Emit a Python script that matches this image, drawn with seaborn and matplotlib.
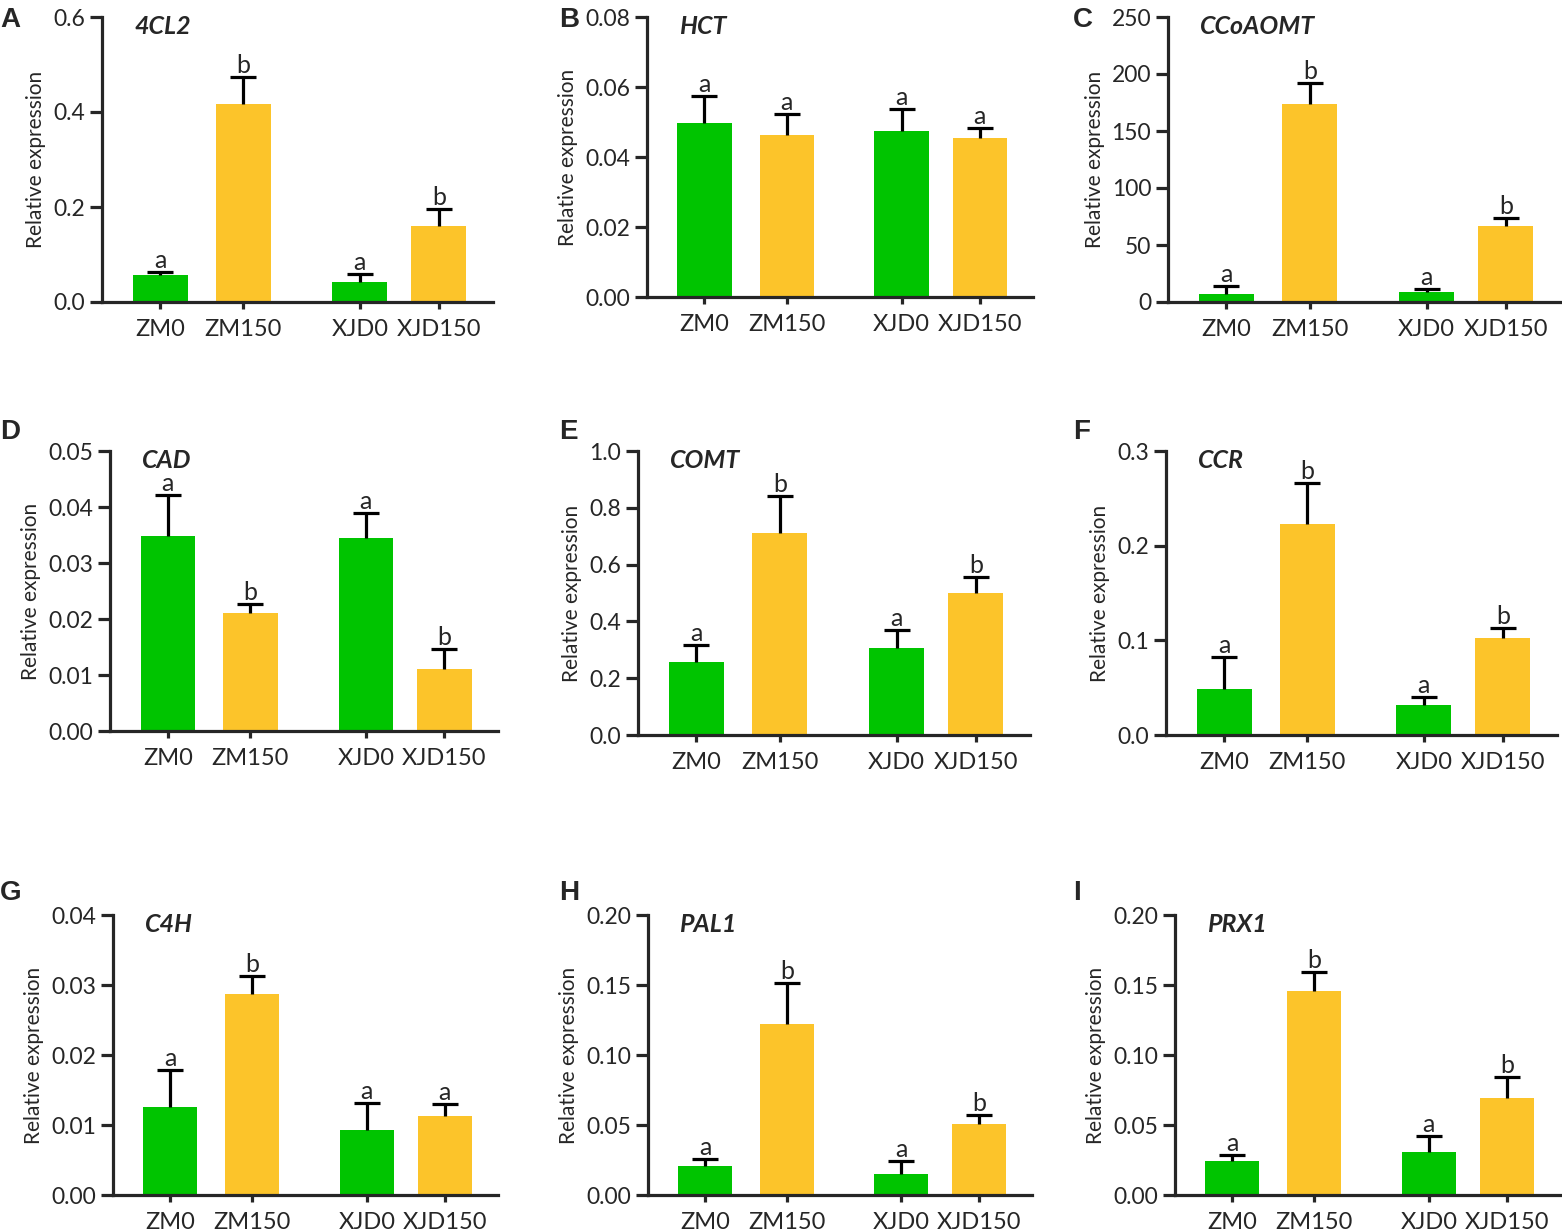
import numpy as np
import pandas as pd
import matplotlib
matplotlib.use("Agg")
import matplotlib.pyplot as plt
import seaborn as sns

# --- data ---
groups = ["ZM0", "ZM150", "XJD0", "XJD150"]
treatment = ["0", "150", "0", "150"]

m_4cl2 = [0.057, 0.417, 0.043, 0.160]
e_4cl2 = [0.007, 0.057, 0.017, 0.036]
l_4cl2 = ["a", "b", "a", "b"]

m_hct = [0.0498, 0.0463, 0.0475, 0.0453]
e_hct = [0.0077, 0.0060, 0.0062, 0.0029]
l_hct = ["a", "a", "a", "a"]

m_ccoaomt = [6.7, 173.7, 9.1, 66.7]
e_ccoaomt = [7.3, 18.1, 2.0, 6.7]
l_ccoaomt = ["a", "b", "a", "b"]

m_cad = [0.0349, 0.0210, 0.0344, 0.0110]
e_cad = [0.0073, 0.0016, 0.0045, 0.0036]
l_cad = ["a", "b", "a", "b"]

m_comt = [0.256, 0.710, 0.307, 0.501]
e_comt = [0.060, 0.132, 0.063, 0.056]
l_comt = ["a", "b", "a", "b"]

m_ccr = [0.0486, 0.2229, 0.0317, 0.1021]
e_ccr = [0.0341, 0.0430, 0.0088, 0.0106]
l_ccr = ["a", "b", "a", "b"]

m_c4h = [0.0126, 0.0287, 0.0093, 0.0113]
e_c4h = [0.0052, 0.0026, 0.0039, 0.0017]
l_c4h = ["a", "b", "a", "a"]

m_pal1 = [0.0207, 0.1221, 0.0150, 0.0507]
e_pal1 = [0.0050, 0.0291, 0.0093, 0.0064]
l_pal1 = ["a", "b", "a", "b"]

m_prx1 = [0.0245, 0.1457, 0.0310, 0.0693]
e_prx1 = [0.0041, 0.0138, 0.0114, 0.0152]
l_prx1 = ["a", "b", "a", "b"]

# y axis ticks (max, step, decimals) per panel
ticks_4cl2 = (0.6, 0.2, 1)
ticks_hct = (0.08, 0.02, 2)
ticks_ccoaomt = (250, 50, 0)
ticks_cad = (0.05, 0.01, 2)
ticks_comt = (1.0, 0.2, 1)
ticks_ccr = (0.3, 0.1, 1)
ticks_c4h = (0.04, 0.01, 2)
ticks_pal1 = (0.20, 0.05, 2)
ticks_prx1 = (0.20, 0.05, 2)

# --- layout ---
W, H = 1562, 1229
POS = [0, 1, 2.4, 3.35]      # gap between the two cultivars
BAR_W = 0.66
PALETTE = {"0": "#00C400", "150": "#FCC42A"}
LW = 2.3

panels = [
    ("A", "4CL2", m_4cl2, e_4cl2, l_4cl2, ticks_4cl2, (102, 17, 493, 302)),
    ("B", "HCT", m_hct, e_hct, l_hct, ticks_hct, (647, 17, 1033, 297)),
    ("C", "CCoAOMT", m_ccoaomt, e_ccoaomt, l_ccoaomt, ticks_ccoaomt, (1168, 17, 1560, 302)),
    ("D", "CAD", m_cad, e_cad, l_cad, ticks_cad, (110, 451, 498, 731)),
    ("E", "COMT", m_comt, e_comt, l_comt, ticks_comt, (638, 451, 1030, 735)),
    ("F", "CCR", m_ccr, e_ccr, l_ccr, ticks_ccr, (1166, 451, 1557, 735)),
    ("G", "C4H", m_c4h, e_c4h, l_c4h, ticks_c4h, (113, 915, 498, 1195)),
    ("H", "PAL1", m_pal1, e_pal1, l_pal1, ticks_pal1, (648, 915, 1032, 1195)),
    ("I", "PRX1", m_prx1, e_prx1, l_prx1, ticks_prx1, (1175, 915, 1560, 1195)),
]
letter_x = [0, 559, 1073]
letter_base = [27, 439, 900]

sns.set_theme(style="ticks")
plt.rcParams["font.family"] = ["Lato", "DejaVu Sans"]
plt.rcParams["axes.linewidth"] = LW

fig = plt.figure(figsize=(W / 100, H / 100), dpi=100)

for i, (tag, gene, means, errs, letters, yt, (l, t, r, b)) in enumerate(panels):
    ax = fig.add_axes([l / W, 1 - b / H, (r - l) / W, (b - t) / H])
    df = pd.DataFrame({"pos": POS, "value": means, "group": treatment})
    native = np.diff(sorted(POS)).min()
    sns.barplot(data=df, x="pos", y="value", hue="group", palette=PALETTE,
                native_scale=True, dodge=False, width=BAR_W / native,
                errorbar=None, legend=False, saturation=1, linewidth=0, ax=ax)

    means = np.array(means)
    errs = np.array(errs)
    # upper error bars only
    ax.vlines(POS, means, means + errs, color="black", lw=LW, zorder=3)
    ax.plot(POS, means + errs, ls="none", marker="_", ms=19, mew=LW,
            color="black", zorder=3)
    for x, top, lab in zip(POS, means + errs, letters):
        ax.annotate(lab, (x, top), xytext=(0, 0), textcoords="offset points",
                    ha="center", va="bottom", fontsize=18)

    ymax, step, dec = yt
    ticks = np.arange(0, ymax + step / 2, step)
    ax.set_ylim(0, ymax)
    ax.set_yticks(ticks)
    ax.set_yticklabels([f"{v:.{dec}f}" for v in ticks])
    ax.set_xlim(-0.7, 4.0)
    ax.set_xticks(POS)
    ax.set_xticklabels(groups)
    ax.tick_params(axis="y", length=8.6, width=LW, pad=3.5, labelsize=16.5)
    ax.tick_params(axis="x", length=5, width=LW, pad=7, labelsize=17)
    ax.set_xlabel("")
    ax.set_ylabel("Relative expression", fontsize=15, labelpad=5)
    sns.despine(ax=ax)

    ax.text(0.082, 0.94, gene, transform=ax.transAxes, fontsize=18,
            fontweight="bold", fontstyle="italic", va="baseline", ha="left")

    fig.text(letter_x[i % 3] / W, 1 - letter_base[i // 3] / H, tag,
             fontsize=20, fontweight="bold", family="Liberation Sans",
             ha="left", va="baseline")

fig.savefig("out.png", dpi=100)
